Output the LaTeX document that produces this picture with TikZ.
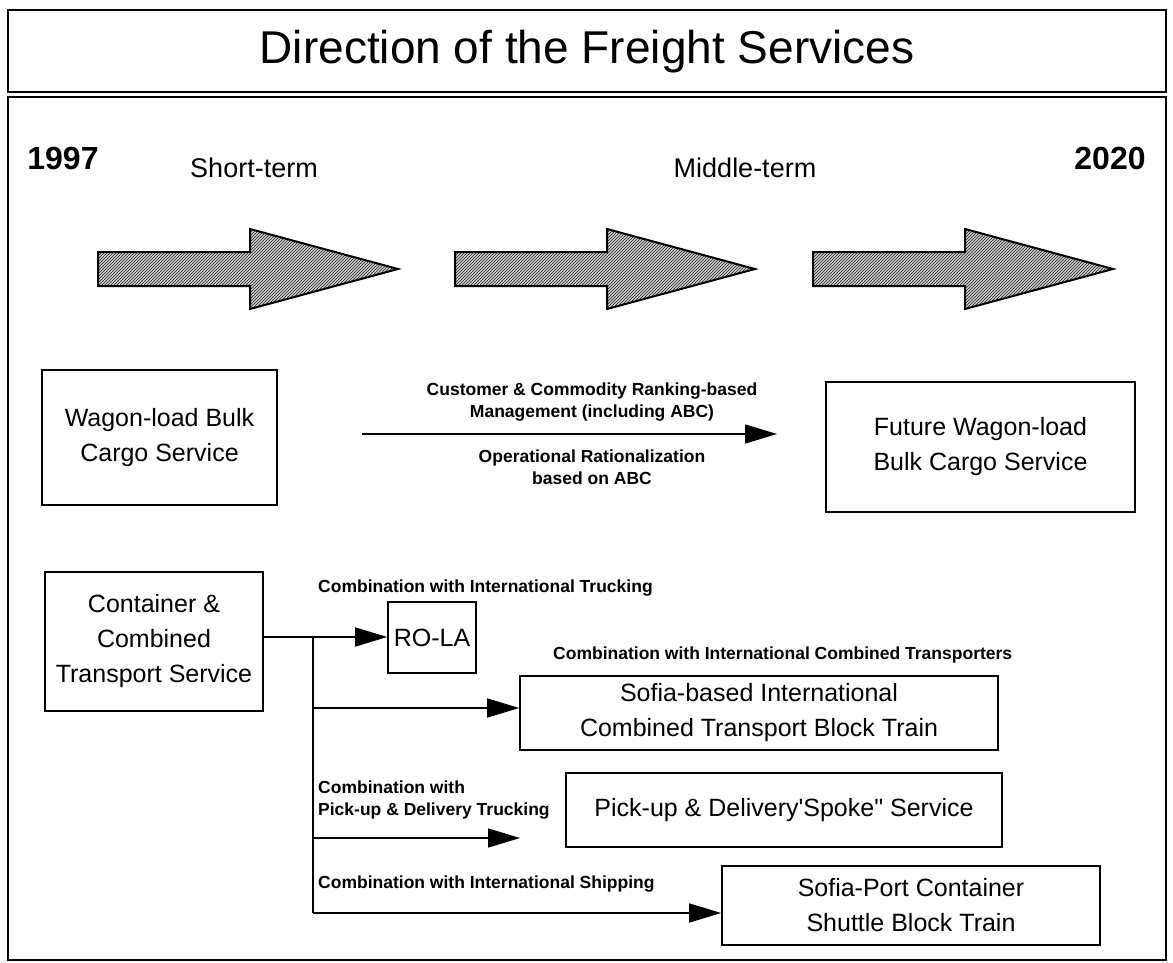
\documentclass[tikz,border=0pt]{standalone}
\usepackage{fontspec}
\setmainfont{Liberation Sans}
\newfontfamily\nqfont{Liberation Sans}[Ligatures=NoCommon]
\usetikzlibrary{arrows.meta,patterns}
\begin{document}
\begin{tikzpicture}[x=1pt,y=-1pt,
  frame/.style={draw=black,line width=1.8pt},
  svcbox/.style={draw=black,line width=1.6pt,align=center,inner sep=0pt,
    font=\fontsize{25}{35}\selectfont},
  lbl/.style={inner sep=0pt,font=\bfseries\fontsize{17.5}{23}\selectfont},
  clbl/.style={inner sep=0pt,align=center,font=\bfseries\fontsize{17.5}{22}\selectfont},
  hdr/.style={inner sep=0pt,font=\fontsize{27}{30}\selectfont},
  yr/.style={inner sep=0pt,font=\bfseries\fontsize{32}{34}\selectfont},
  bigarrow/.style={draw=black,line width=2pt,line join=miter,
    preaction={fill=gray!40},pattern=north east lines,pattern color=black!85},
  conn/.style={draw=black,line width=1.4pt},
  tip/.style={-{Triangle[length=32pt,width=19pt]}}
]
\useasboundingbox (0,0) rectangle (1173,963);
\fill[white] (0,0) rectangle (1173,963);
% frames
\draw[frame] (8,10) rectangle (1166,92);
\draw[frame] (8,97) rectangle (1166,960);
\node[inner sep=0pt,font=\fontsize{46}{50}\selectfont] (title) at (587,52) {Direction of the Freight Services};
% timeline headers
\node[yr] (y1997) at (63,158) {1997};
\node[hdr] (short) at (254,168) {Short-term};
\node[hdr] (middle) at (745,168) {Middle-term};
\node[yr] (y2020) at (1110,158) {2020};
% big block arrows
\foreach \s in {98,455,813}{
  \path[bigarrow] (\s,252) -- ++(152,0) -- ++(0,-23) -- ++(148,40) -- ++(-148,40) -- ++(0,-23) -- ++(-152,0) -- cycle;
}
% wagon-load row
\node[svcbox,minimum width=235pt,minimum height=135pt] (wagon) at (159.5,437.5) {Wagon-load Bulk\\Cargo Service};
\node[svcbox,minimum width=309pt,minimum height=130pt] (future) at (980.5,447) {Future Wagon-load\\Bulk Cargo Service};
\coordinate (ws) at (362,434);
\coordinate (we) at (777,434);
\draw[conn,tip] (ws) -- (we);
\node[clbl] (cust) at (592,402) {Customer \& Commodity Ranking-based\\Management (including ABC)};
\node[clbl] (oper) at (592,467) {Operational Rationalization\\based on ABC};
% container row
\node[svcbox,minimum width=218pt,minimum height=139pt] (cont) at (154,641.5) {Container \&\\Combined\\Transport Service};
\node[svcbox,minimum width=88pt,minimum height=71pt] (rola) at (432,637.5) {RO-LA};
\node[svcbox,minimum width=478pt,minimum height=74pt] (sofia) at (759,713) {Sofia-based International\\Combined Transport Block Train};
\node[svcbox,minimum width=436pt,minimum height=74pt] (pick) at (784,810) {Pick-up \& Delivery{\nqfont'}Spoke{\nqfont"} Service};
\node[svcbox,minimum width=378pt,minimum height=79pt] (port) at (911,905.5) {Sofia-Port Container\\Shuttle Block Train};
\coordinate (j0) at (313,637);
\coordinate (j1) at (313,708);
\coordinate (j2) at (313,838);
\coordinate (j3) at (313,913);
\coordinate (pe) at (520,838);
\draw[conn] (cont.east |- j0) -- (j0) -- (j3);
\draw[conn,tip] (j0) -- (rola.west |- j0);
\draw[conn,tip] (j1) -- (sofia.west |- j1);
\draw[conn,tip] (j2) -- (pe);
\draw[conn,tip] (j3) -- (port.west |- j3);
\node[lbl,anchor=west] (l1) at (318,588) {Combination with International Trucking};
\node[lbl,anchor=west] (l2) at (553,655) {Combination with International Combined Transporters};
\node[lbl,anchor=west] (l3a) at (318,787) {Combination with};
\node[lbl,anchor=west] (l3b) at (318,811) {Pick-up \& Delivery Trucking};
\node[lbl,anchor=west] (l4) at (318,884) {Combination with International Shipping};
\end{tikzpicture}
\end{document}
